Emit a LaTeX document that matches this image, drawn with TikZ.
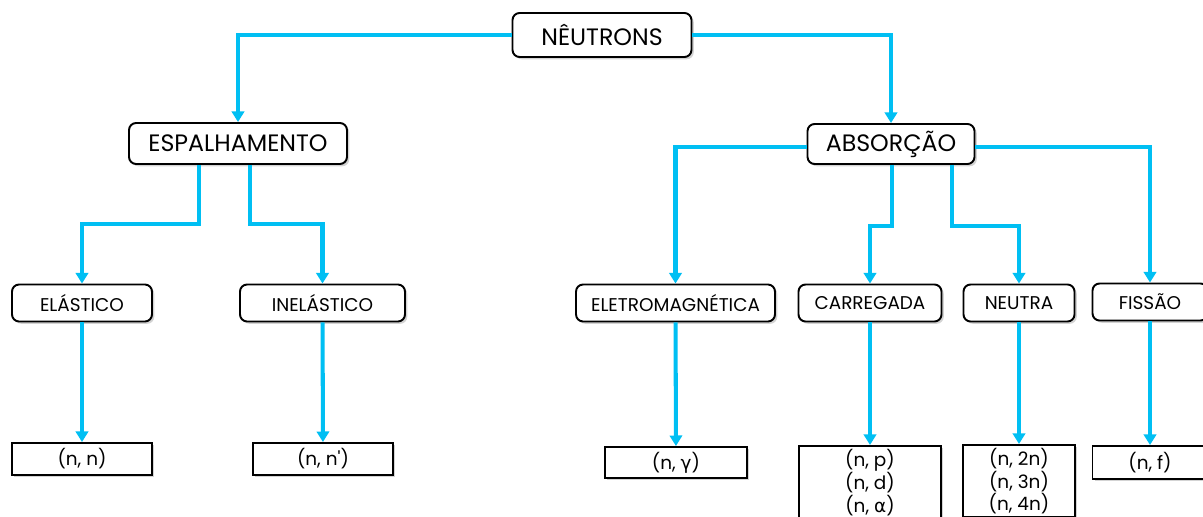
\documentclass[tikz,border=0pt]{standalone}
\usepackage{fontspec}
\setmainfont{Poppins}
\newfontfamily\gregofont{DejaVu Sans}
\usepackage{tikz}
\usetikzlibrary{arrows.meta}
\usetikzlibrary{calc}
\usetikzlibrary{shadows}

\definecolor{azulseta}{RGB}{0,191,243}

\begin{document}
\begin{tikzpicture}[
        x=0.02cm, y=-0.02cm, % Unidade = um pixel da figura
        caixa/.style={draw=black, line width=1.1pt, rounded corners=4pt, fill=white, inner sep=0pt,
            drop shadow={shadow xshift=1.3pt, shadow yshift=-1.3pt, opacity=0.35}}, % Caixa base
        nivelum/.style={caixa, font=\fontsize{13.5}{16}\selectfont}, % Caixas grandes
        niveldois/.style={caixa, font=\fontsize{10.5}{12}\selectfont, minimum height=0.74cm}, % Tipos
        reacao/.style={caixa, sharp corners, font=\fontsize{10.5}{10.5}\selectfont, align=center}, % Reacoes
        seta/.style={draw=azulseta, line width=2.3pt, -{Triangle[width=7pt, length=6pt]}} % Conectores
    ]
        % --- Area da figura ---
        \useasboundingbox (0,0) rectangle (1203,517);
        \clip (0,0) rectangle (1203,517);

        % --- Caixa principal ---
        \node[nivelum, minimum width=3.58cm, minimum height=0.88cm] (neut) at (602,35) {NÊUTRONS};

        % --- Primeiro nivel ---
        \node[nivelum, minimum width=4.36cm, minimum height=0.82cm] (esp) at (238,143.5) {ESPALHAMENTO};
        \node[nivelum, minimum width=3.34cm, minimum height=0.80cm] (abs) at (891,144) {ABSORÇÃO};

        % --- Segundo nivel ---
        \node[niveldois, minimum width=2.80cm] (ela) at (82,303) {ELÁSTICO};
        \node[niveldois, minimum width=3.30cm] (inel) at (322.5,303) {INELÁSTICO};
        \node[niveldois, minimum width=3.98cm] (elet) at (675.5,303) {ELETROMAGNÉTICA};
        \node[niveldois, minimum width=2.86cm] (carr) at (870,303) {CARREGADA};
        \node[niveldois, minimum width=2.22cm] (neutra) at (1019,303) {NEUTRA};
        \node[niveldois, minimum width=2.30cm] (fis) at (1150,302) {FISSÃO};

        % --- Reacoes ---
        \node[reacao, minimum width=2.80cm, minimum height=0.64cm] (nn) at (82,459) {(n, n)};
        \node[reacao, minimum width=2.80cm, minimum height=0.64cm] (nnl) at (323,459) {(n, n\textquotesingle)};
        \node[reacao, minimum width=2.84cm, minimum height=0.62cm] (ng) at (676,462.5) {(n, {\gregofont γ})};
        \node[reacao, minimum width=2.84cm, minimum height=1.45cm, anchor=north] (npda) at (870,445)
            {(n, p)\\(n, d)\\(n, {\gregofont α})};
        \node[reacao, minimum width=2.24cm, minimum height=1.45cm, anchor=north] (nxn) at (1019,444)
            {(n, 2n)\\(n, 3n)\\(n, 4n)};
        \node[reacao, minimum width=2.30cm, minimum height=0.66cm] (nf) at (1150,462.5) {(n, f)};

        % --- Conectores do topo ---
        \draw[seta] (neut.west) -| (esp.north);
        \draw[seta] (neut.east) -| (abs.north);

        % --- Espalhamento ---
        \draw[seta] ($(esp.south)+(-39,0)$) -- ++(0,59) -| (ela.north);
        \draw[seta] ($(esp.south)+(12,0)$) -- ++(0,59) -| (inel.north);

        % --- Absorcao ---
        \draw[seta] ($(abs.west)+(0,3)$) -| (elet.north);
        \draw[seta] ($(abs.south)+(1,0)$) -- ++(0,61) -| (carr.north);
        \draw[seta] ($(abs.south)+(61,0)$) -- ++(0,61) -| (neutra.north);
        \draw[seta] ($(abs.east)+(0,3)$) -| (fis.north);

        % --- Ate as reacoes ---
        \draw[seta] (ela) -- (nn);
        \draw[seta] (inel) -- (nnl);
        \draw[seta] (elet) -- (ng);
        \draw[seta] (carr) -- (npda);
        \draw[seta] (neutra) -- (nxn);
        \draw[seta] (fis) -- (nf);

    \end{tikzpicture}
\end{document}
